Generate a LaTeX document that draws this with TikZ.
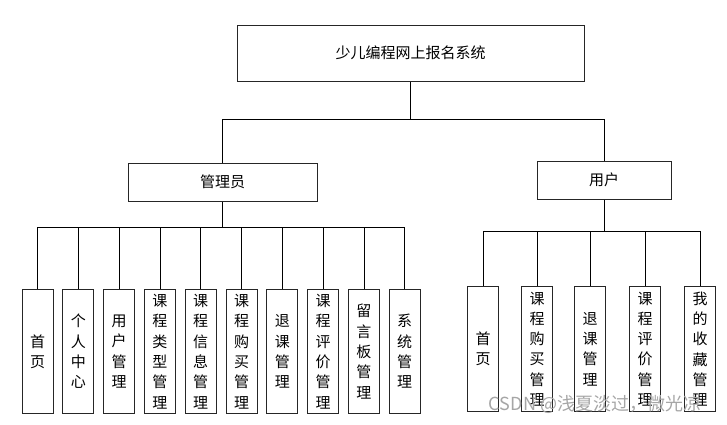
\documentclass[tikz,border=0pt]{standalone}
\usepackage{fontspec}
\setmainfont{Noto Sans CJK SC}
\begin{document}
\begin{tikzpicture}[x=1pt, y=-1pt,
    box/.style={draw=black!85, line width=1pt, inner sep=0pt, font=\fontsize{15}{18}\selectfont},
    leaf/.style={box, anchor=north, minimum width=31pt, minimum height=124pt, align=center, font=\fontsize{15}{20.3}\selectfont},
    link/.style={draw, line width=0.8pt},
  ]
  \useasboundingbox (0,0) rectangle (727,424);
  \node[box, minimum width=347pt, minimum height=56pt] (sys) at (410.5,53) {少儿编程网上报名系统};
  \node[box, minimum width=189pt, minimum height=38pt] (admin) at (222.5,182) {管理员};
  \node[box, minimum width=134pt, minimum height=38pt] (user) at (604,180) {用户};

  % admin modules
  \foreach \lbl [count=\i] in {{首\\页},{个\\人\\中\\心},{用\\户\\管\\理},{课\\程\\类\\型\\管\\理},{课\\程\\信\\息\\管\\理},{课\\程\\购\\买\\管\\理},{退\\课\\管\\理},{课\\程\\评\\价\\管\\理},{留\\言\\板\\管\\理},{系\\统\\管\\理}}
    \node[leaf] (a\i) at ({37.5+40.8*(\i-1)},289) {\lbl};

  % user modules
  \foreach \x/\lbl [count=\i] in {483/{首\\页},537/{课\\程\\购\\买\\管\\理},590/{退\\课\\管\\理},645/{课\\程\\评\\价\\管\\理},700/{我\\的\\收\\藏\\管\\理}}
    \node[leaf, minimum height=125pt] (u\i) at (\x,286) {\lbl};

  \draw[link] (sys.south) -- ++(0,38) coordinate (topbus);
  \draw[link] (admin.north) |- (topbus) -| (user.north);

  \draw[link] (admin.south) -- ++(0,26) coordinate (abus);
  \foreach \i in {1,...,10}
    \draw[link] (abus) -| (a\i.north);

  \draw[link] (user.south) -- ++(0,32) coordinate (ubus);
  \foreach \i in {1,...,5}
    \draw[link] (ubus) -| (u\i.north);

  \node[text=black!35, font=\fontsize{18}{18}\selectfont] (mark) at (595,404) {CSDN @浅夏淡过，微光凉};
\end{tikzpicture}
\end{document}
